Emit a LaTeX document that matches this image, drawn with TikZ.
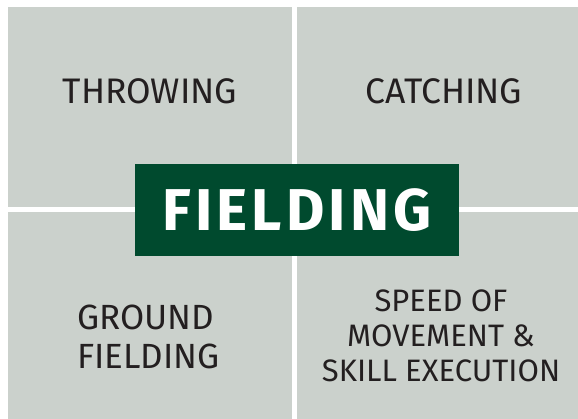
\documentclass[tikz,border=0pt]{standalone}
\usepackage{fontspec}
\setmainfont{Fira Sans}
\usepackage{tikz}
\definecolor{panelgrey}{RGB}{203,209,204}
\definecolor{fieldgreen}{RGB}{0,74,46}
\definecolor{labeltext}{RGB}{35,31,32}
\tikzset{
  panel/.style={shape=rectangle,fill=panelgrey,inner sep=0pt},
  skill/.style={text=labeltext,inner sep=0pt,font=\fontsize{35.5}{39}\selectfont},
  title/.style={shape=rectangle,fill=fieldgreen,text=white,inner sep=0pt,
    minimum width=324pt,minimum height=92pt,font=\fontsize{59}{59}\bfseries\selectfont}
}

\begin{document}
\begin{tikzpicture}[x=1pt,y=-1pt]

\fill[white] (0,0) rectangle (578,419);
\useasboundingbox (0,0) rectangle (578,419);

\path (150,107) node [panel,minimum width=284pt,minimum height=200pt] (throwpanel) {};

\path (437.5,107) node [panel,minimum width=281pt,minimum height=200pt] (catchpanel) {};

\path (150,315.5) node [panel,minimum width=284pt,minimum height=207pt] (groundpanel) {};

\path (437.5,315.5) node [panel,minimum width=281pt,minimum height=207pt] (speedpanel) {};

\path (150,91) node [skill] (throwing) {THROWING};

\path (444,91) node [skill] (catching) {CATCHING};

\path (77,305) node [skill,anchor=north west,align=left,font=\fontsize{35}{39}\selectfont] (ground) {GROUND\\FIELDING};

\path (441,336) node [skill,align=center,font=\fontsize{31}{35}\selectfont] (speed) {SPEED OF\\MOVEMENT \&\\SKILL EXECUTION};

\path (297,210) node [title] (fielding) {\addfontfeature{LetterSpace=7}FIELDING};

\end{tikzpicture}
\end{document}
